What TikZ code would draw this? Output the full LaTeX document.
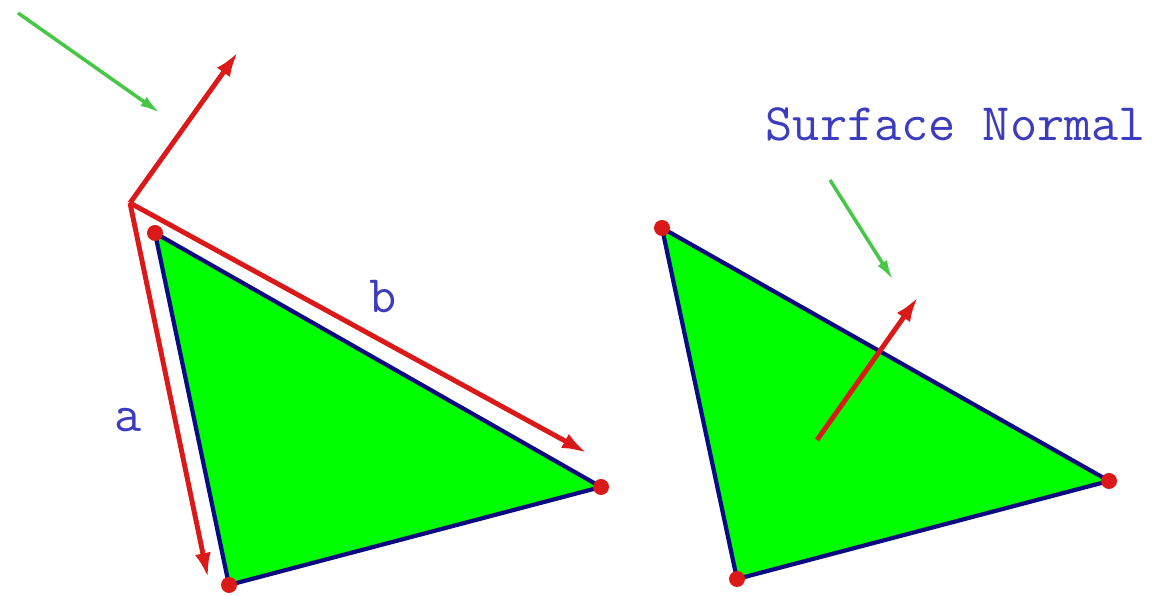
\documentclass[tikz,border=0pt]{standalone}
\usepackage{tikz}
\usetikzlibrary{arrows.meta}

\definecolor{triFill}{RGB}{0,255,0}
\definecolor{triEdge}{RGB}{10,10,130}
\definecolor{vecRed}{RGB}{220,25,25}
\definecolor{rayGreen}{RGB}{70,200,70}
\definecolor{labelBlue}{RGB}{60,60,190}

\begin{document}
\begin{tikzpicture}[
    >=Latex,
    triFace/.style={
        fill=triFill,
        draw=triEdge,
        line width=1.2pt,
        line join=round
    },
    vertexDot/.style={
        circle,
        fill=vecRed,
        inner sep=0pt,
        minimum size=0.16cm
    },
    edgeVec/.style={
        draw=vecRed,
        line width=1.4pt,
        -{Latex[length=0.25cm,width=0.16cm]}
    },
    lightRay/.style={
        draw=rayGreen,
        line width=1pt,
        -{Latex[length=0.2cm,width=0.11cm]}
    },
    vecLabel/.style={
        text=labelBlue,
        font=\fontsize{15pt}{17pt}\selectfont\ttfamily,
        inner sep=0pt
    }
]

\useasboundingbox (0,0) rectangle (11.57,5.96);

% ==================== LEFT: EDGE VECTORS ====================
\coordinate (vtxA) at (1.55,3.63);
\coordinate (vtxB) at (2.29,0.11);
\coordinate (vtxC) at (6.01,1.09);
\coordinate (vecOrigin) at (1.30,3.93);
\coordinate (tipA) at (2.08,0.18);
\coordinate (tipB) at (5.87,1.43);
\coordinate (tipCross) at (2.38,5.44);
\coordinate (rayStart) at (0.18,5.83);
\coordinate (rayEnd) at (1.60,4.83);

\filldraw[triFace] (vtxA) -- (vtxB) -- (vtxC) -- cycle;
\node[vertexDot] (dotA) at (vtxA) {};
\node[vertexDot] (dotB) at (vtxB) {};
\node[vertexDot] (dotC) at (vtxC) {};

\draw[edgeVec] (vecOrigin) -- (tipA);
\draw[edgeVec] (vecOrigin) -- (tipB);
\draw[edgeVec] (vecOrigin) -- (tipCross);
\draw[lightRay] (rayStart) -- (rayEnd);

\node[vecLabel] (labelA) at (1.28,1.76) {a};
\node[vecLabel] (labelB) at (3.83,2.99) {b};

% ==================== RIGHT: SURFACE NORMAL ====================
\coordinate (vtxD) at (6.62,3.68);
\coordinate (vtxE) at (7.37,0.17);
\coordinate (vtxF) at (11.09,1.15);
\coordinate (normalBase) at (8.17,1.56);
\coordinate (normalTip) at (9.18,2.99);
\coordinate (rayStartR) at (8.30,4.16);
\coordinate (rayEndR) at (8.93,3.16);

\filldraw[triFace] (vtxD) -- (vtxE) -- (vtxF) -- cycle;
\node[vertexDot] (dotD) at (vtxD) {};
\node[vertexDot] (dotE) at (vtxE) {};
\node[vertexDot] (dotF) at (vtxF) {};

\draw[edgeVec] (normalBase) -- (normalTip);
\draw[lightRay] (rayStartR) -- (rayEndR);

\node[vecLabel, anchor=base west] (labelNormal) at (7.65,4.55) {Surface Normal};

\end{tikzpicture}
\end{document}
